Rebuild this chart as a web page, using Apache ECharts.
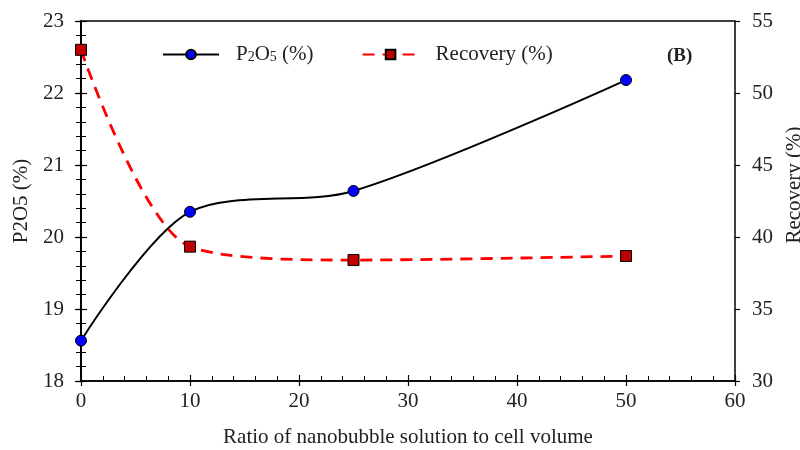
<!DOCTYPE html>
<html><head><meta charset="utf-8">
<script src="https://cdn.jsdelivr.net/npm/echarts@6/dist/echarts.min.js"></script>
<style>html,body{margin:0;padding:0;background:#fff}#c{width:800px;height:450px}</style>
</head><body><div id="c"></div>
<script>
const ratio = [0, 10, 25, 50];
const p2o5 = [18.56, 20.35, 20.64, 22.18];
const recovery = [53.0, 39.33, 38.40, 38.68];
const xTicks = [0, 10, 20, 30, 40, 50, 60];
const leftTicks = [18, 19, 20, 21, 22, 23];
const rightTicks = [30, 35, 40, 45, 50, 55];

const F = 'Liberation Serif';
const FS = 21;
const chart = echarts.init(document.getElementById('c'));
const axisBase = {
  axisLine: {show: true, lineStyle: {color: '#000', width: 1.5}},
  axisTick: {show: true, inside: true, length: 6, lineStyle: {color: '#000', width: 1.2}},
  minorTick: {show: true, splitNumber: 5, length: 5, lineStyle: {color: '#000', width: 1}},
  splitLine: {show: false},
  axisLabel: {color: '#222', fontFamily: F, fontSize: FS},
  nameTextStyle: {color: '#222', fontFamily: F, fontSize: FS}
};
// duplicate axes drawing the outer half of the major ticks
const outerTicks = {
  axisLine: {show: false}, axisLabel: {show: false}, splitLine: {show: false},
  axisTick: {show: true, inside: false, length: 5, lineStyle: {color: '#000', width: 1.2}}
};
chart.setOption({
  animation: false,
  backgroundColor: '#fff',
  grid: {left: 81, right: 65, top: 21, bottom: 69, show: true, borderColor: '#000', borderWidth: 1.5,
    backgroundColor: 'transparent', containLabel: false, outerBoundsMode: 'none'},
  legend: {
    left: 157, top: 39, itemWidth: 56, itemHeight: 12, itemGap: 48,
    textStyle: {color: '#222', fontFamily: F, fontSize: FS, padding: [0, 0, 0, 12],
      rich: {a: {fontFamily: F, fontSize: FS, color: '#222'}, s: {fontFamily: F, fontSize: 14, color: '#222', padding: [6, 0, 0, 0]}}},
    formatter: function (n) { return n === 'P2O5' ? '{a|P}{s|2}{a|O}{s|5}{a| (%)}' : '{a|' + n + '}'; },
    data: ['P2O5', 'Recovery (%)']
  },
  graphic: [{type: 'text', left: 667, top: 47, style: {text: '(B)', font: 'bold 19px "Liberation Serif"', fill: '#222'}}],
  xAxis: [
    Object.assign({}, axisBase, {
      type: 'value', min: 0, max: 60, interval: 10, position: 'bottom',
      name: 'Ratio of nanobubble solution to cell volume', nameLocation: 'middle', nameGap: 46,
      axisLabel: Object.assign({}, axisBase.axisLabel, {margin: 10})
    }),
    Object.assign({}, outerTicks, {type: 'value', min: 0, max: 60, interval: 10, position: 'bottom'})
  ],
  yAxis: [
    Object.assign({}, axisBase, {
      type: 'value', min: 18, max: 23, interval: 1, position: 'left',
      name: 'P2O5 (%)', nameLocation: 'middle', nameGap: 43, nameRotate: 90,
      axisLabel: Object.assign({}, axisBase.axisLabel, {margin: 17})
    }),
    Object.assign({}, axisBase, {
      type: 'value', min: 30, max: 55, interval: 5, position: 'right',
      name: 'Recovery (%)', nameLocation: 'middle', nameGap: 45, nameRotate: 90,
      nameTextStyle: {color: '#222', fontFamily: F, fontSize: FS, padding: [0, 0, 0, 32]},
      axisLabel: Object.assign({}, axisBase.axisLabel, {margin: 17})
    }),
    Object.assign({}, outerTicks, {type: 'value', min: 18, max: 23, interval: 1, position: 'left'}),
    Object.assign({}, outerTicks, {type: 'value', min: 30, max: 55, interval: 5, position: 'right'})
  ],
  series: [
    {name: 'P2O5', type: 'line', xAxisIndex: 0, yAxisIndex: 0, smooth: 0.3,
      data: ratio.map((x, i) => [x, p2o5[i]]),
      symbol: 'circle', symbolSize: 11,
      lineStyle: {color: '#000', width: 2},
      itemStyle: {color: '#0000FF', borderColor: '#000', borderWidth: 1}},
    {name: 'Recovery (%)', type: 'line', xAxisIndex: 0, yAxisIndex: 1, smooth: 0.3,
      data: ratio.map((x, i) => [x, recovery[i]]),
      symbol: 'rect', symbolSize: 11,
      lineStyle: {color: '#FF0000', width: 2.8, type: [12, 8]},
      itemStyle: {color: '#C00000', borderColor: '#000', borderWidth: 1}}
  ]
});
</script></body></html>
